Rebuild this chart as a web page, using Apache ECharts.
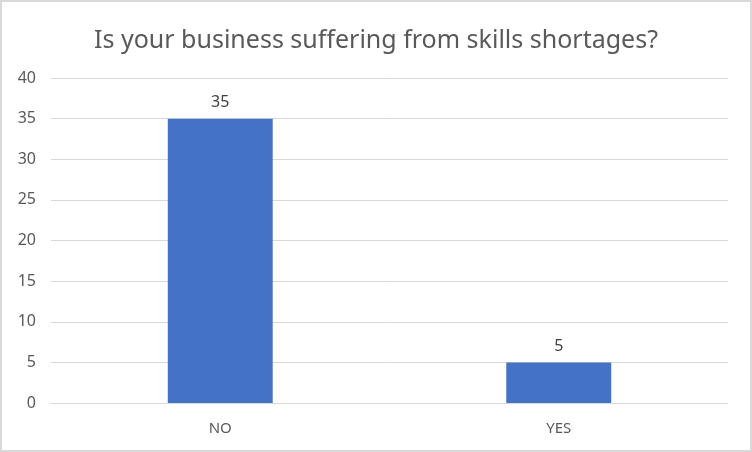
<!DOCTYPE html>
<html><head><meta charset="utf-8">
<script src="https://cdn.jsdelivr.net/npm/echarts@6/dist/echarts.min.js"></script>
<style>html,body{margin:0;padding:0;background:#fff}#c{width:752px;height:452px;box-sizing:border-box;border:2px solid #d9d9d9}</style>
</head><body><div id="c"></div>
<script>
const categories = ['NO', 'YES'];
const values = [35, 5];
const chart = echarts.init(document.getElementById('c'), null, {renderer: 'canvas'});
chart.setOption({
  animation: false,
  title: {text: 'Is your business suffering from skills shortages?', left: 'center', top: 21,
    textStyle: {fontFamily: 'Noto Sans', fontSize: 25, fontWeight: 'normal', color: '#595959'}},
  grid: {left: 49, right: 22, top: 76, bottom: 47},
  xAxis: {type: 'category', data: categories,
    axisLine: {lineStyle: {color: '#d9d9d9', width: 1}}, axisTick: {show: false},
    axisLabel: {fontFamily: 'Noto Sans', fontSize: 15, color: '#595959', margin: 18}},
  yAxis: {type: 'value', min: 0, max: 40, interval: 5,
    splitLine: {lineStyle: {color: '#d9d9d9', width: 1}},
    axisLabel: {fontFamily: 'Noto Sans', fontSize: 16, color: '#595959', margin: 15}},
  series: [{type: 'bar', data: values, barWidth: '31%',
    itemStyle: {color: '#4472c4'},
    label: {show: true, position: 'top', distance: 8, fontFamily: 'Noto Sans', fontSize: 16, color: '#404040'}}]
});
</script></body></html>
